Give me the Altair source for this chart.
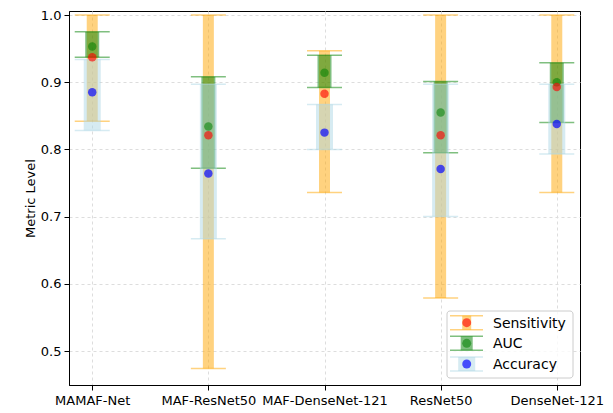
import altair as alt
import pandas as pd

models = ["MAMAF-Net", "MAF-ResNet50", "MAF-DenseNet-121", "ResNet50", "DenseNet-121"]

sens_mean = [0.937, 0.821, 0.883, 0.821, 0.893]
sens_low = [0.842, 0.474, 0.736, 0.579, 0.736]
sens_high = [1.0, 1.0, 0.947, 1.0, 1.0]

auc_mean = [0.953, 0.834, 0.914, 0.855, 0.900]
auc_low = [0.937, 0.772, 0.892, 0.795, 0.840]
auc_high = [0.975, 0.908, 0.940, 0.901, 0.929]

acc_mean = [0.885, 0.764, 0.825, 0.771, 0.838]
acc_low = [0.828, 0.667, 0.800, 0.700, 0.793]
acc_high = [0.934, 0.897, 0.867, 0.897, 0.897]

metrics = ["Sensitivity", "AUC", "Accuracy"]
y_ticks = [0.5, 0.6, 0.7, 0.8, 0.9, 1.0]

series = {
    "Sensitivity": (sens_mean, sens_low, sens_high),
    "AUC": (auc_mean, auc_low, auc_high),
    "Accuracy": (acc_mean, acc_low, acc_high),
}

style = {
    "Sensitivity": dict(bar="#FFA500", dot="#FF0000", bw=11, dot_op=0.62, lbw=9),
    "AUC": dict(bar="#008000", dot="#008000", bw=14, dot_op=0.55, lbw=12),
    "Accuracy": dict(bar="#ADD8E6", dot="#0000FF", bw=17, dot_op=0.68, lbw=17),
}

W, H = 511, 374

X = alt.X("model:N", sort=models,
          scale=alt.Scale(type="point", padding=0.2),
          axis=alt.Axis(title=None, labelAngle=0, grid=True, gridDash=[3, 3],
                        gridColor="#dddddd", labelPadding=4, tickSize=5))
Y = alt.Y("low:Q",
          scale=alt.Scale(domain=[0.4494, 1.006], nice=False, zero=False),
          axis=alt.Axis(title="Metric Level", values=y_ticks, format=".1f",
                        grid=True, gridDash=[3, 3], gridColor="#dddddd",
                        tickSize=5, labelPadding=3, titlePadding=3))

frames = {}
for m in metrics:
    mean, low, high = series[m]
    frames[m] = pd.DataFrame({"model": models, "mean": mean, "low": low, "high": high})

layers = []
# error bars with caps
for m in metrics:
    s = style[m]
    base = alt.Chart(frames[m])
    layers.append(base.mark_rule(strokeWidth=s["bw"], strokeCap="butt",
                                 color=s["bar"], opacity=0.5)
                  .encode(x=X, y=Y, y2="high:Q"))
    layers.append(base.mark_tick(size=35, thickness=1.5, color=s["bar"], opacity=0.5)
                  .encode(x=X, y=Y))
    layers.append(base.mark_tick(size=35, thickness=1.5, color=s["bar"], opacity=0.5)
                  .encode(x=X, y=alt.Y("high:Q")))
# mean dots on top
for m in ["AUC", "Accuracy", "Sensitivity"]:
    s = style[m]
    layers.append(alt.Chart(frames[m]).mark_point(filled=True, size=72, color=s["dot"],
                                                  opacity=s["dot_op"])
                  .encode(x=X, y=alt.Y("mean:Q")))

# legend (inside lower right)
one = pd.DataFrame({"k": [0]})
lx0, lx1, ly0, ly1 = 378, 504, 300, 367
layers.append(alt.Chart(one).mark_rect(fill="white", fillOpacity=0.8, stroke="#cccccc",
                                       strokeWidth=1, cornerRadius=3)
              .encode(x=alt.value(lx0), x2=alt.value(lx1), y=alt.value(ly0), y2=alt.value(ly1)))
row_y = [311.7, 332.3, 353.0]
cx = 397.7
for m, ry in zip(metrics, row_y):
    s = style[m]
    c = alt.Chart(one)
    layers.append(c.mark_rule(strokeWidth=s["lbw"], strokeCap="butt", color=s["bar"], opacity=0.5)
                  .encode(x=alt.value(cx), y=alt.value(ry - 7), y2=alt.value(ry + 7)))
    for dy in (-7, 7):
        layers.append(c.mark_rule(strokeWidth=1.5, color=s["bar"], opacity=0.5)
                      .encode(x=alt.value(381), x2=alt.value(414), y=alt.value(ry + dy)))
    layers.append(c.mark_point(filled=True, size=80, color=s["dot"], opacity=s["dot_op"])
                  .encode(x=alt.value(cx), y=alt.value(ry)))
    layers.append(c.mark_text(align="left", baseline="middle", fontSize=14,
                              font="DejaVu Sans", color="black")
                  .encode(x=alt.value(424), y=alt.value(ry + 1), text=alt.value(m)))

chart = (alt.layer(*layers)
         .properties(width=W, height=H,
                     autosize=alt.AutoSizeParams(type="none"),
                     padding={"left": 61, "top": 3, "right": 25, "bottom": 25})
         .configure(font="DejaVu Sans")
         .configure_view(stroke="black", strokeWidth=1)
         .configure_axis(domainColor="black", tickColor="black", labelColor="black",
                         titleColor="black", labelFontSize=13, titleFontSize=13,
                         titleFontWeight="normal", labelFont="DejaVu Sans",
                         titleFont="DejaVu Sans", domainWidth=1, tickWidth=1))

chart.save("out.html", embed_options={"renderer": "svg", "actions": False})
